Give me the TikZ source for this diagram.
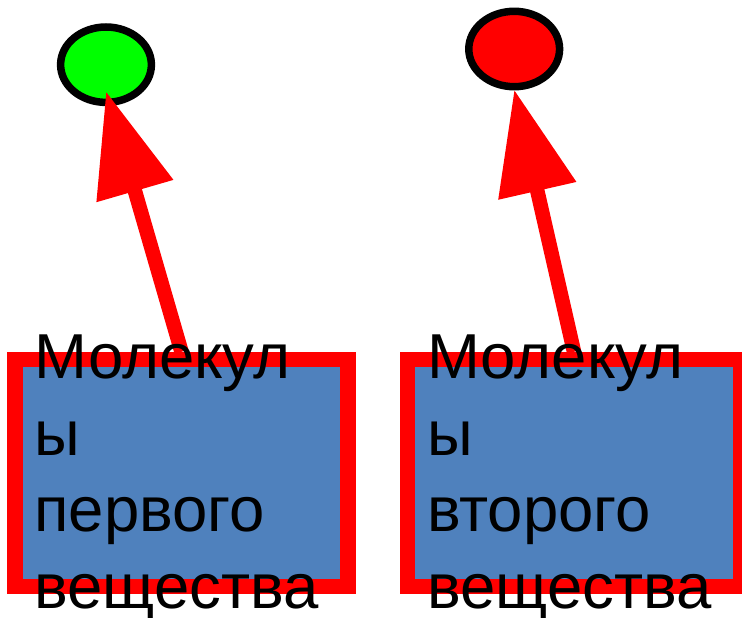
\documentclass[tikz,border=0pt]{standalone}
\usepackage{fontspec}
\setmainfont{Liberation Sans}
\usetikzlibrary{arrows.meta,shapes.geometric,calc}
\definecolor{boxblue}{HTML}{4F81BD}
\tikzset{
  ball/.style={ellipse, draw=black, line width=7.5pt, inner sep=0pt, minimum width=90.8pt, minimum height=75.4pt},
  molbox/.style={rectangle, draw=red, fill=boxblue, line width=15.5pt, inner sep=0pt, minimum width=333pt, minimum height=226.8pt},
  moltext/.style={anchor=north west, inner sep=0pt, align=left, font=\fontsize{63.5}{76.7}\selectfont},
  bigarrow/.style={draw=red, line width=14.5pt, -{Triangle[length=104pt,width=76pt]}}
}
\begin{document}
\begin{tikzpicture}[x=1pt,y=-1pt]
\useasboundingbox (0,0) rectangle (742,618);
\node[ball, fill=green] (g) at (106,64.7) {};
\node[ball, fill=red] (r) at (514.2,49) {};
\node[molbox] (b1) at (181.5,472.9) {};
\node[molbox] (b2) at (574,472.9) {};
\draw[bigarrow] (b1.north) -- ($(g.south)+(0,-15)$);
\draw[bigarrow] (b2.north) -- ($(r.south)+(0,-1)$);
\node[moltext] (t1) at ($(b1.north west)+(27,-17.2)$) {Молекул\\ы\\первого\\вещества};
\node[moltext] (t2) at ($(b2.north west)+(27.3,-17.2)$) {Молекул\\ы\\второго\\вещества};
\end{tikzpicture}
\end{document}
